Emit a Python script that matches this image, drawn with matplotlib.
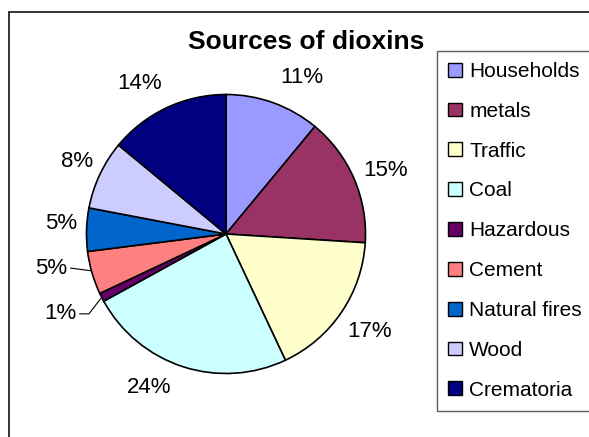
import numpy as np
import matplotlib
matplotlib.use("Agg")
import matplotlib.pyplot as plt
from matplotlib.patches import Patch, Rectangle

plt.rcParams["font.family"] = ["Liberation Sans", "DejaVu Sans"]

# dioxin emission shares (percent)
sources = ["Households", "metals", "Traffic", "Coal", "Hazardous",
           "Cement", "Natural fires", "Wood", "Crematoria"]
shares = [11, 15, 17, 24, 1, 5, 5, 8, 14]
colors = ["#9999FF", "#993366", "#FFFFCC", "#CCFFFF", "#660066",
          "#FF8080", "#0066CC", "#CCCCFF", "#000080"]

# where each % label sits: (distance in radii, compass angle clockwise from 12)
label_place = [(1.25, 25.8), (1.233, 68.5), (1.245, 124.0), (1.234, 206.6),
               (1.32, 244.3), (1.278, 259.0), (1.185, 273.8), (1.186, 295.8),
               (1.246, 330.3)]
# labels dragged away from their slice get a leader line ("elbow" = bent)
leaders = {"Hazardous": "elbow", "Cement": "straight"}

W, H = 589, 437
fig = plt.figure(figsize=(W / 100, H / 100), dpi=100)

# chart area border (runs off the right and bottom edges)
fig.patches.append(Rectangle((9 / W, -0.05), 1.2, (H - 12) / H + 0.05,
                             transform=fig.transFigure, fill=False,
                             edgecolor="#333333", lw=1.4, zorder=0))

# pie: centre (226, 234) px, radius 139.5 px
cx, cy, R = 226, 234, 139.5
ax = fig.add_axes([(cx - R) / W, (H - cy - R) / H, 2 * R / W, 2 * R / H])
wedges, _ = ax.pie(shares, colors=colors, startangle=90, counterclock=False,
                   radius=1.0,
                   wedgeprops=dict(edgecolor="black", linewidth=1.2))
ax.set_xlim(-1, 1)
ax.set_ylim(-1, 1)
ax.set_aspect("equal")
ax.axis("off")

texts = []
for name, val, (d, a) in zip(sources, shares, label_place):
    t = np.deg2rad(a)
    txt = ax.text(d * np.sin(t), d * np.cos(t), f"{val}%", ha="center",
                  va="center", fontsize=16, clip_on=False)
    texts.append(txt)

fig.canvas.draw()
inv = ax.transData.inverted()
for w, name, txt in zip(wedges, sources, texts):
    if name not in leaders:
        continue
    bb = txt.get_window_extent()
    x0, y0 = inv.transform((bb.x1 + 3, (bb.y0 + bb.y1) / 2))
    if leaders[name] == "elbow":
        mid = np.deg2rad((w.theta1 + w.theta2) / 2)
        ex, ey = np.cos(mid), np.sin(mid)
        xs, ys = [x0, x0 + 0.07, ex], [y0, y0, ey]
    else:
        ex = -np.sqrt(1 - (y0 - 0.02) ** 2)
        xs, ys = [x0, ex], [y0, y0 - 0.02]
    ax.plot(xs, ys, color="black", lw=0.8, clip_on=False,
            solid_capstyle="butt")

fig.text(306 / W, 1 - 42 / H, "Sources of dioxins", ha="center",
         va="center", fontsize=19, fontweight="bold")

handles = [Patch(facecolor=c, edgecolor="black", lw=1.0) for c in colors]
leg = fig.legend(handles, sources, loc="upper left",
                 bbox_to_anchor=(437 / W, 1 - 50.5 / H), fontsize=15,
                 frameon=True, fancybox=False, borderaxespad=0,
                 handlelength=0.65, handleheight=0.65, handletextpad=0.35,
                 labelspacing=1.0, borderpad=0.55)
leg.get_frame().set_edgecolor("#333333")
leg.get_frame().set_linewidth(1.0)

fig.savefig("out.png", dpi=100)
